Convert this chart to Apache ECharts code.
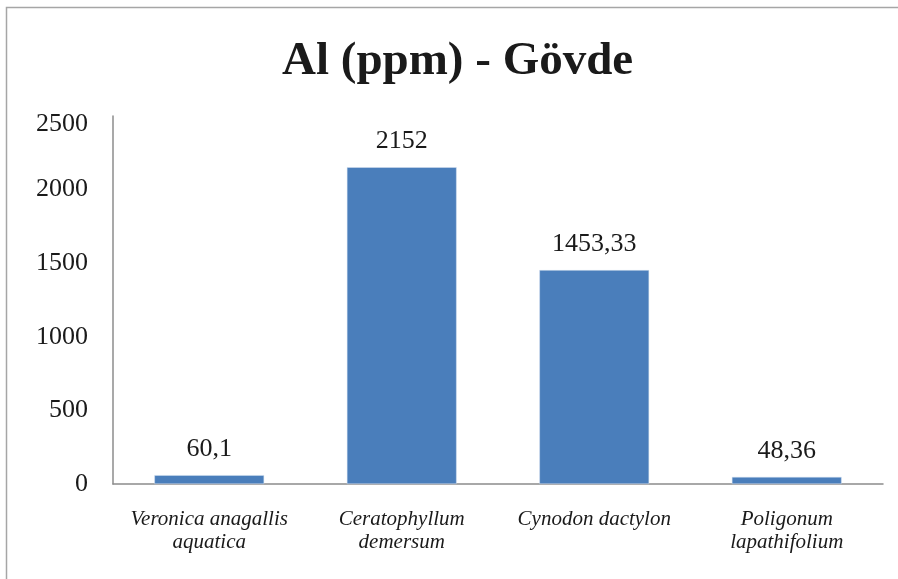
<!DOCTYPE html>
<html>
<head>
<meta charset="utf-8">
<script src="https://cdn.jsdelivr.net/npm/echarts@6/dist/echarts.min.js"></script>
<style>html,body{margin:0;padding:0;background:#fff;}#c{width:898px;height:579px;}</style>
</head>
<body>
<div id="c"></div>
<script>
const titleText = 'Al (ppm) - Gövde';
const categories = ['Veronica anagallis\naquatica', 'Ceratophyllum\ndemersum', 'Cynodon dactylon', 'Poligonum\nlapathifolium'];
const values = [60.1, 2152, 1453.33, 48.36];
const yTicks = [0, 500, 1000, 1500, 2000, 2500];

const chart = echarts.init(document.getElementById('c'), null, {renderer: 'canvas'});
chart.setOption({
  animation: false,
  backgroundColor: '#fff',
  title: {
    text: titleText,
    left: 277,
    top: 33,
    textStyle: {fontFamily: 'Liberation Serif', fontWeight: 'bold', fontSize: 47, color: '#1a1a1a'}
  },
  graphic: [{
    type: 'rect', silent: true,
    shape: {x: 6.5, y: 7.5, width: 1000, height: 1000},
    style: {fill: 'none', stroke: '#a6a6a6', lineWidth: 1.5}
  }],
  grid: {left: 113, right: 15, top: 116, bottom: 95, containLabel: false},
  xAxis: {
    type: 'category',
    data: categories,
    axisLine: {lineStyle: {color: '#8c8c8c', width: 1.5}},
    axisTick: {show: false},
    axisLabel: {fontFamily: 'Liberation Serif', fontStyle: 'italic', fontSize: 21, color: '#1a1a1a', lineHeight: 23, margin: 24, interval: 0}
  },
  yAxis: {
    type: 'value',
    min: yTicks[0], max: yTicks[yTicks.length - 1], interval: 500,
    axisLine: {show: true, lineStyle: {color: '#8c8c8c', width: 1.5}},
    axisTick: {show: false},
    splitLine: {show: false},
    axisLabel: {
      fontFamily: 'Liberation Serif', fontSize: 26, color: '#1a1a1a', margin: 25,
      formatter: v => v === yTicks[yTicks.length - 1] ? '{top|' + v + '}' : String(v),
      rich: {top: {fontFamily: 'Liberation Serif', fontSize: 26, color: '#1a1a1a', padding: [16, 0, 0, 0]}}
    }
  },
  series: [{
    type: 'bar',
    data: values,
    barWidth: '57%',
    itemStyle: {color: '#4a7ebb', borderColor: '#d6e2f0', borderWidth: 0.5},
    label: {
      show: true, position: 'top', distance: 13,
      fontFamily: 'Liberation Serif', fontSize: 26, color: '#1a1a1a',
      formatter: p => String(p.value).replace('.', ',')
    }
  }]
});
</script>
</body>
</html>
